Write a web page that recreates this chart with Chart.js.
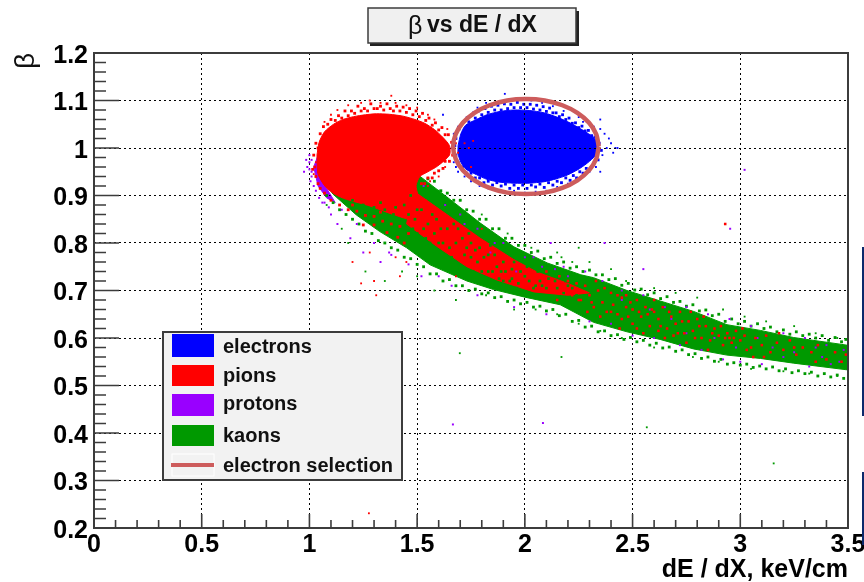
<!DOCTYPE html>
<html>
<head>
<meta charset="utf-8">
<title>beta vs dE/dX</title>
<script src="https://cdn.jsdelivr.net/npm/chart.js@4/dist/chart.umd.js"></script>
<style>
  html, body { margin: 0; padding: 0; background: #fff; overflow: hidden; }
  #wrap { position: relative; width: 864px; height: 582px; }
  #plot { display: block; filter: blur(0.55px); }
  .edge { position: absolute; left: 862px; width: 2px; background: #0c2a6c; }
</style>
</head>
<body>
<div id="wrap">
  <canvas id="plot" width="864" height="582"></canvas>
  <div class="edge" style="top:247px;height:169px"></div>
  <div class="edge" style="top:472px;height:73px"></div>
</div>
<script>
const xTicks = [0, 0.5, 1, 1.5, 2, 2.5, 3, 3.5];
const yTicks = [0.2, 0.3, 0.4, 0.5, 0.6, 0.7, 0.8, 0.9, 1, 1.1, 1.2];
const legendNames = ['electrons', 'pions', 'protons', 'kaons', 'electron selection'];
const xTitle = 'dE / dX, keV/cm';

// outlines of the dense clouds
const electronCloud = [[1.69,1.005],[1.703,1.03],[1.725,1.048],[1.775,1.06],[1.824,1.07],[1.885,1.077],[1.949,1.08],[2.02,1.079],[2.089,1.074],[2.155,1.064],[2.213,1.052],[2.26,1.04],[2.305,1.027],[2.337,1.012],[2.337,.99],[2.3,.972],[2.255,.957],[2.197,.943],[2.145,.935],[2.089,.929],[2.02,.926],[1.949,.926],[1.885,.928],[1.824,.934],[1.775,.944],[1.725,.956],[1.703,.97],[1.69,.988],[1.69,1.005]];
const pionCloud = [[1.035,.985],[1.045,1.012],[1.07,1.034],[1.112,1.05],[1.155,1.06],[1.205,1.066],[1.26,1.07],[1.311,1.072],[1.37,1.071],[1.435,1.067],[1.49,1.06],[1.535,1.052],[1.58,1.039],[1.618,1.023],[1.65,1.005],[1.65,.985],[1.595,.962],[1.55,.95],[1.513,.94],[1.495,.921],[1.505,.9],[1.52,.88],[1.482,.85],[1.389,.86],[1.28,.878],[1.171,.892],[1.12,.902],[1.075,.918],[1.04,.945],[1.035,.985]];
const pionBand = [[1.482,.91],[1.638,.86],[1.793,.81],[1.949,.765],[2.06,.738],[2.2,.715],[2.3,.695],[2.2,.69],[2.042,.697],[1.871,.722],[1.731,.75],[1.591,.793],[1.451,.84],[1.482,.91]];
const protonEdge = [[1.02,.96],[1.04,.985],[1.05,.96],[1.08,.915],[1.12,.885],[1.08,.895],[1.04,.92],[1.02,.96]];
const kaonBand = [[1.5,.945],[1.638,.897],[1.793,.842],[1.949,.792],[2.104,.758],[2.26,.733],[2.319,.727],[2.474,.7],[2.628,.678],[2.783,.656],[2.938,.628],[3.093,.616],[3.248,.601],[3.495,.585],[3.495,.533],[3.248,.547],[3.093,.557],[2.938,.564],[2.783,.577],[2.628,.597],[2.474,.613],[2.319,.633],[2.164,.67],[2.0,.686],[1.855,.702],[1.731,.72],[1.56,.754],[1.451,.79],[1.327,.824],[1.218,.859],[1.109,.903],[1.07,.93],[1.5,.945]];

// points along the rough edges of the clouds
const electronEdge = [[1.68,1.02],[1.695,1.04],[1.715,1.055],[1.74,1.055],[1.755,1.07],[1.77,1.063],[1.785,1.078],[1.8,1.07],[1.815,1.083],[1.83,1.075],[1.845,1.088],[1.86,1.08],[1.875,1.09],[1.89,1.08],[1.905,1.093],[1.92,1.083],[1.935,1.092],[1.95,1.085],[1.965,1.096],[1.98,1.085],[1.995,1.092],[2.01,1.085],[2.025,1.092],[2.04,1.082],[2.055,1.09],[2.07,1.08],[2.085,1.087],[2.1,1.077],[2.115,1.084],[2.13,1.074],[2.145,1.074],[2.16,1.066],[2.175,1.07],[2.19,1.06],[2.205,1.063],[2.22,1.052],[2.235,1.053],[2.25,1.043],[2.265,1.046],[2.28,1.036],[2.295,1.037],[2.31,1.026],[2.325,1.023],[2.345,1.01],[2.355,.995],[2.34,.975],[2.32,.968],[2.305,.957],[2.285,.957],[2.27,.947],[2.255,.95],[2.24,.937],[2.225,.942],[2.21,.932],[2.19,.937],[2.17,.927],[2.15,.93],[2.13,.922],[2.11,.927],[2.09,.917],[2.07,.924],[2.05,.918],[2.03,.922],[2.01,.915],[1.99,.922],[1.97,.915],[1.95,.922],[1.93,.915],[1.91,.924],[1.89,.92],[1.87,.927],[1.85,.922],[1.83,.93],[1.81,.927],[1.79,.937],[1.77,.937],[1.75,.947],[1.73,.947],[1.71,.96],[1.69,.97],[1.68,.985],[1.675,1.005]];
const pionEdge = [[1.05,1.03],[1.065,1.045],[1.085,1.05],[1.1,1.06],[1.12,1.058],[1.135,1.068],[1.15,1.063],[1.165,1.078],[1.18,1.068],[1.195,1.078],[1.21,1.073],[1.225,1.088],[1.24,1.078],[1.255,1.083],[1.27,1.078],[1.285,1.093],[1.3,1.083],[1.315,1.083],[1.33,1.088],[1.345,1.08],[1.36,1.093],[1.375,1.083],[1.39,1.078],[1.405,1.088],[1.42,1.078],[1.435,1.086],[1.45,1.075],[1.465,1.083],[1.48,1.07],[1.495,1.078],[1.51,1.066],[1.525,1.073],[1.54,1.058],[1.555,1.063],[1.57,1.048],[1.585,1.053],[1.6,1.038],[1.615,1.043],[1.63,1.028],[1.645,1.028],[1.66,1.012],[1.67,1.0],[1.665,.985],[1.65,.972],[1.63,.972],[1.62,.957],[1.6,.952],[1.58,.947],[1.57,.937],[1.55,.937],[1.535,.925],[1.52,.925],[1.03,1.01],[1.02,.985],[1.025,.96],[1.015,.955],[1.03,.94],[1.04,.925],[1.05,.915],[1.07,.905],[1.04,1.0],[1.1,.89],[1.14,.88],[1.18,.87],[1.22,.867],[1.26,.858],[1.3,.856],[1.34,.846],[1.38,.84],[1.42,.835],[1.3,.838],[1.36,.822],[1.41,.812],[1.25,.838],[1.46,.82],[1.44,.8],[1.33,.865],[1.2,.88]];
const kaonEdge = [[1.55,.935],[1.58,.93],[1.61,.91],[1.64,.905],[1.67,.89],[1.7,.89],[1.73,.87],[1.76,.867],[1.79,.85],[1.82,.85],[1.85,.83],[1.88,.83],[1.91,.81],[1.94,.81],[1.97,.795],[2.0,.795],[2.03,.78],[2.06,.783],[2.09,.767],[2.12,.77],[2.15,.757],[2.18,.76],[2.21,.747],[2.24,.75],[2.27,.74],[2.3,.743],[2.33,.733],[2.36,.733],[2.39,.723],[2.42,.725],[2.45,.711],[2.48,.715],[2.51,.701],[2.54,.703],[2.57,.691],[2.6,.695],[2.63,.683],[2.66,.687],[2.69,.675],[2.72,.677],[2.75,.667],[2.78,.67],[2.81,.657],[2.84,.659],[2.87,.647],[2.9,.65],[2.93,.635],[2.96,.64],[2.99,.63],[3.02,.635],[3.05,.625],[3.08,.63],[3.11,.62],[3.14,.623],[3.17,.613],[3.2,.617],[3.23,.608],[3.26,.613],[3.29,.605],[3.32,.608],[3.35,.6],[3.38,.605],[3.41,.595],[3.44,.601],[3.47,.592],[3.49,.597],[1.08,.9],[1.11,.885],[1.14,.87],[1.17,.86],[1.2,.85],[1.23,.84],[1.26,.825],[1.29,.82],[1.32,.805],[1.35,.8],[1.38,.79],[1.41,.785],[1.44,.77],[1.47,.767],[1.5,.755],[1.53,.75],[1.56,.735],[1.59,.735],[1.62,.72],[1.65,.723],[1.68,.71],[1.71,.71],[1.74,.7],[1.77,.703],[1.8,.693],[1.83,.695],[1.86,.685],[1.89,.687],[1.92,.677],[1.95,.68],[1.98,.672],[2.01,.675],[2.04,.665],[2.07,.667],[2.1,.657],[2.13,.66],[2.16,.647],[2.19,.65],[2.22,.635],[2.25,.637],[2.28,.623],[2.31,.625],[2.34,.613],[2.37,.615],[2.4,.605],[2.43,.607],[2.46,.597],[2.49,.601],[2.52,.592],[2.55,.595],[2.58,.585],[2.61,.589],[2.64,.579],[2.67,.581],[2.7,.572],[2.73,.575],[2.76,.565],[2.79,.567],[2.82,.557],[2.85,.56],[2.88,.551],[2.91,.555],[2.94,.545],[2.97,.548],[3.0,.543],[3.03,.545],[3.06,.538],[3.09,.541],[3.12,.535],[3.15,.539],[3.18,.531],[3.21,.535],[3.24,.527],[3.27,.531],[3.3,.525],[3.33,.528],[3.36,.52],[3.39,.525],[3.42,.518],[3.45,.522],[3.48,.515]];

// single points that stand out of the clouds, and the speckle inside the bands
const electronDots = [[1.907,1.114],[1.82,1.095],[1.78,1.085],[1.86,1.095],[1.93,1.101],[1.98,1.104],[2.03,1.1],[2.08,1.095],[2.13,1.088],[2.18,1.078],[2.25,1.065],[1.76,1.075],[1.73,1.065],[1.69,1.045],[1.67,1.03],[1.66,1],[1.67,.97],[1.69,.95],[1.72,.94],[1.75,.93],[1.79,.92],[1.83,.915],[1.87,.912],[1.9,.908],[1.95,.91],[2,.906],[2.05,.908],[2.1,.91],[2.15,.918],[2.2,.925],[2.25,.935],[2.3,.95],[2.33,.96],[2.35,.95],[2.37,1.03],[2.38,1],[2.4,1.01],[2.42,1],[2.43,1],[2.41,.99],[2.39,1.02],[2.36,.985],[2.35,1.04],[2.35,1.06],[2.32,1.045],[2.27,1.055],[1.62,1.07],[1.68,.96]];
const pionDots = [[1.38,1.11],[1.28,1.1],[1.13,1.08],[1.18,1.09],[1.24,1.095],[1.33,1.095],[1.4,1.095],[1.45,1.09],[1.5,1.085],[1.55,1.07],[1.58,1.06],[1.64,1.04],[1.68,1.01],[1.69,.99],[1.63,.96],[1.6,.94],[1.56,.93],[1.1,1.07],[1.07,1.055],[1.74,1.0],[1.76,1.015],[1.72,1.01],[1.75,.96],[1.55,.92],[1.54,.89],[1.56,.86],[1.3,.72],[1.2,.76],[1.28,.78],[1.42,.73],[1.31,.69],[1.24,.715],[1.4,.77],[1.45,.76],[1.68,.73],[1.8,.83],[1.179,.558],[1.295,.494],[1.429,.351],[1.276,.231],[1.03,.97],[1.04,.95],[1.02,.945],[1.05,.94]];
const pionSpeckle = [[2.1,.74],[2.13,.715],[2.16,.73],[2.18,.7],[2.2,.72],[2.22,.69],[2.24,.715],[2.26,.68],[2.28,.71],[2.3,.69],[2.32,.665],[2.34,.7],[2.36,.675],[2.38,.655],[2.4,.695],[2.41,.67],[2.43,.65],[2.45,.64],[2.45,.685],[2.47,.665],[2.5,.66],[2.5,.63],[2.52,.68],[2.54,.645],[2.56,.665],[2.58,.625],[2.6,.655],[2.62,.64],[2.64,.665],[2.66,.62],[2.68,.645],[2.7,.63],[2.72,.655],[2.74,.61],[2.76,.635],[2.78,.615],[2.8,.64],[2.82,.6],[2.84,.625],[2.86,.595],[2.88,.62],[2.9,.605],[2.92,.585],[2.94,.61],[2.96,.59],[2.98,.615],[3,.595],[3.02,.605],[3.05,.58],[3.07,.6],[3.1,.585],[3.12,.605],[3.14,.57],[3.17,.59],[3.2,.575],[3.23,.595],[3.26,.565],[3.29,.58],[3.33,.57],[3.36,.585],[3.4,.555],[3.44,.57],[3.47,.55],[3.49,.565],[2.15,.68],[2.25,.68],[2.29,.655],[2.35,.645],[2.44,.62],[2.48,.645],[2.55,.61],[2.57,.65],[2.65,.6],[2.69,.605],[2.75,.59],[2.95,.6],[3.06,.56],[3.25,.58],[3.35,.55],[3.11,.56],[2.85,.575],[3.18,.61],[2.6,.68],[2.4,.655],[2.33,.72],[2.52,.62],[2.62,.615],[2.47,.69],[2.77,.655],[2.83,.645],[2.91,.625],[3.03,.575],[2.93,.84],[2.37,.705],[2.31,.675],[2.43,.69],[2.49,.675],[2.53,.655],[2.59,.66],[2.63,.625],[2.67,.655],[2.71,.61],[2.73,.635],[2.79,.6],[2.81,.625],[2.87,.61],[2.93,.6],[2.97,.6],[3.01,.62]];
const protonDots = [[.975,.95],[.985,.975],[.99,.96],[1.0,.985],[1.01,.975],[1.01,.94],[1.03,.91],[1.06,.885],[1.1,.86],[1.13,.84],[1.19,.81],[1.25,.78],[1.33,.76],[1.37,.78],[1.53,.92],[1.63,.88],[1.72,.84],[1.84,.78],[1.9,.8],[1.96,.74],[2.0,.77],[2.08,.75],[2.14,.745],[2.2,.73],[2.28,.74],[2.36,.72],[2.45,.7],[2.55,.69],[2.65,.665],[2.75,.665],[2.85,.65],[2.95,.64],[3.05,.625],[3.2,.61],[3.3,.6],[3.4,.585],[3.48,.575],[2.3,.635],[2.4,.63],[2.5,.605],[2.6,.6],[2.72,.585],[2.82,.575],[2.92,.555],[3.0,.55],[3.1,.545],[3.2,.56],[3.32,.54],[3.42,.545],[1.6,.73],[1.78,.69],[1.95,.665],[2.1,.65],[2.45,.68],[2.75,.61],[3.15,.58],[3.35,.58],[2.953,.83],[3.02,.954],[1.666,.418],[2.084,.421],[2.12,.8],[2.37,.8],[2.55,.745],[1.15,.87],[1.22,.84],[1.3,.8],[1.38,.775],[1.46,.755],[1.52,.73],[1.66,.71],[1.7,.86],[1.78,.83],[1.86,.8],[2.04,.77],[2.18,.75],[2.58,.66],[2.68,.64],[2.88,.6],[2.98,.58],[3.08,.6],[3.25,.57],[3.38,.56],[3.46,.55],[1.0,.955],[1.005,.93],[1.02,.92],[1.045,.895],[1.07,.885],[1.09,.875],[1.01,.95],[1.0,.97]];
const kaonDots = [[1.08,.88],[1.15,.83],[1.18,.8],[1.26,.74],[1.35,.72],[1.43,.74],[1.5,.73],[1.58,.7],[1.68,.68],[1.82,.69],[1.95,.66],[2.05,.66],[2.15,.65],[2.25,.63],[2.35,.615],[2.45,.6],[2.6,.58],[2.78,.56],[2.9,.55],[3.05,.535],[3.2,.53],[3.32,.525],[3.45,.52],[1.6,.91],[1.7,.89],[1.8,.86],[1.92,.82],[2.03,.79],[2.15,.78],[2.22,.76],[2.3,.76],[2.4,.745],[2.47,.72],[2.6,.705],[2.7,.695],[2.8,.685],[2.92,.66],[3.02,.645],[3.12,.635],[3.25,.625],[3.35,.61],[3.45,.6],[2.17,.77],[2.25,.79],[2.566,.412],[1.698,.568],[3.155,.336],[2.17,.56]];
const kaonSpeckle = [[1.47,.9],[1.52,.87],[1.55,.84],[1.5,.82],[1.58,.82],[1.62,.8],[1.68,.8],[1.66,.77],[1.72,.775],[1.75,.8],[1.78,.76],[1.83,.775],[1.85,.74],[1.9,.76],[1.93,.72],[1.98,.74],[2.02,.72],[2.06,.74],[2.1,.705],[2.14,.72],[2.18,.695],[1.56,.8],[1.64,.83],[1.7,.745],[1.8,.74],[1.88,.725],[1.96,.705],[2.08,.71],[2.2,.71],[1.49,.85],[1.6,.775],[1.74,.82],[1.46,.86],[1.53,.83],[1.57,.86],[1.61,.83],[1.65,.79],[1.69,.83],[1.73,.79],[1.77,.785],[1.81,.77],[1.84,.795],[1.87,.75],[1.91,.74],[1.94,.745],[1.97,.715],[2.0,.73],[2.04,.705],[2.11,.725],[1.75,.77],[1.63,.77],[1.54,.81],[1.59,.85],[1.68,.76],[1.82,.72],[1.9,.72],[2.05,.71],[1.44,.84],[1.48,.83],[1.52,.8],[1.42,.85],[1.39,.86],[1.35,.87],[1.3,.875],[1.25,.88],[1.2,.89],[1.33,.885],[1.4,.875],[1.44,.88],[1.92,.78],[1.95,.76],[1.99,.765],[2.03,.75],[2.07,.72],[2.12,.74],[2.15,.705],[2.17,.73],[2.22,.705],[2.24,.69],[2.26,.72],[2.19,.72],[1.86,.775],[1.89,.74],[1.79,.79],[1.71,.81],[1.67,.84],[1.58,.78],[1.55,.77],[1.47,.81],[1.5,.87],[1.6,.8],[1.76,.74],[1.83,.74],[2.01,.75],[1.94,.725]];

// electron selection ellipse, read around the red ring
const selection = [[2.343,1.003],[2.331,1.029],[2.298,1.053],[2.244,1.074],[2.174,1.09],[2.092,1.1],[2.005,1.103],[1.918,1.1],[1.836,1.09],[1.766,1.074],[1.712,1.053],[1.679,1.029],[1.667,1.003],[1.679,.977],[1.712,.953],[1.766,.932],[1.836,.916],[1.918,.906],[2.005,.903],[2.092,.906],[2.174,.916],[2.244,.932],[2.298,.953],[2.331,.977],[2.343,1.003]];

const BLUE = '#0000ff', RED = '#ff0000', PURPLE = '#9900ff', GREEN = '#009900', RING = '#cd5c5c';
const FRAME = '#3c3c3c';

const toXY = list => list.map(p => ({ x: p[0], y: p[1] }));

function cloud(label, data, color, order, tension) {
  return { label, data: toXY(data), showLine: true, fill: 'shape', backgroundColor: color,
    borderColor: color, borderWidth: 1, tension, pointRadius: 0, order };
}
function dots(label, data, color, order, size) {
  return { label, data: toXY(data), showLine: false, pointStyle: 'rect', pointRadius: size,
    pointBorderWidth: 0, pointBackgroundColor: color, order };
}

// extra drawing ROOT-style: frame, minor ticks, title box, legend box
const rootFrame = {
  id: 'rootFrame',
  beforeDatasetDraw(chart, args) {
    // the dotted grid shows over the electrons but stays under everything else
    if (chart.data.datasets[args.index].label === 'proton edge') {
      chart.scales.x.drawGrid(chart.chartArea);
      chart.scales.y.drawGrid(chart.chartArea);
    }
  },
  afterDraw(chart) {
    const ctx = chart.ctx, a = chart.chartArea, sx = chart.scales.x, sy = chart.scales.y;
    ctx.save();
    ctx.strokeStyle = FRAME;
    ctx.lineWidth = 2;
    ctx.strokeRect(a.left, a.top, a.right - a.left, a.bottom - a.top);

    ctx.lineWidth = 1.6;
    ctx.beginPath();
    for (let i = 0; i <= 35; i++) {
      const px = sx.getPixelForValue(i / 10);
      ctx.moveTo(px, a.bottom);
      ctx.lineTo(px, a.bottom - (i % 5 === 0 ? 14 : 8));
    }
    for (let i = 0; i <= 50; i++) {
      const py = sy.getPixelForValue(0.2 + i / 50);
      ctx.moveTo(a.left, py);
      ctx.lineTo(a.left + (i % 5 === 0 ? 25 : 12), py);
    }
    ctx.stroke();

    // y tick labels sit a little under their ticks in the original
    ctx.fillStyle = '#000';
    ctx.font = 'bold 25px "Liberation Sans"';
    ctx.textAlign = 'right';
    ctx.textBaseline = 'middle';
    yTicks.forEach(v => ctx.fillText(String(v), 88, sy.getPixelForValue(v) + 3));
    ctx.fillText(xTitle, 848, 570);

    // title box
    ctx.fillStyle = '#222';
    ctx.fillRect(370, 11, 209, 35);
    ctx.fillStyle = '#f0f0f0';
    ctx.fillRect(368, 8, 208, 35);
    ctx.lineWidth = 1.5;
    ctx.strokeStyle = FRAME;
    ctx.strokeRect(368, 8, 208, 35);
    ctx.fillStyle = '#111';
    ctx.textAlign = 'left';
    ctx.font = '25px "Liberation Sans"';
    ctx.fillText('β', 408, 27);
    ctx.font = 'bold 23px "Liberation Sans"';
    ctx.fillText('vs dE / dX', 427, 26);

    // legend box
    ctx.fillStyle = '#f2f2f2';
    ctx.fillRect(163, 332, 239, 148);
    ctx.lineWidth = 2;
    ctx.strokeRect(163, 332, 239, 148);
    const swatches = [BLUE, RED, PURPLE, GREEN];
    const tops = [334, 365, 394, 425];
    const heights = [23, 21, 22, 21];
    swatches.forEach((c, i) => {
      ctx.fillStyle = c;
      ctx.fillRect(172, tops[i], 42, heights[i]);
    });
    ctx.strokeStyle = '#fff';
    ctx.lineWidth = 1;
    ctx.strokeRect(172, 454, 42, 22);
    ctx.fillStyle = RING;
    ctx.fillRect(171, 463, 43, 4);
    ctx.fillStyle = '#111';
    ctx.font = 'bold 20px "Liberation Sans"';
    const rows = [347, 376, 404, 436, 466];
    legendNames.forEach((name, i) => ctx.fillText(name, 223, rows[i]));
    ctx.restore();
  }
};

new Chart(document.getElementById('plot'), {
  type: 'scatter',
  data: {
    datasets: [
      cloud('electron cloud', electronCloud, BLUE, 20, 0.25),
      dots('electron edge', electronEdge, BLUE, 19, 2),
      dots('electron dots', electronDots, BLUE, 19, 1.3),
      cloud('proton edge', protonEdge, PURPLE, 18, 0),
      dots('kaon edge', kaonEdge, GREEN, 17, 2),
      cloud('kaon band', kaonBand, GREEN, 17, 0),
      cloud('pion cloud', pionCloud, RED, 16, 0.25),
      cloud('pion band', pionBand, RED, 15, 0),
      dots('pion edge', pionEdge, RED, 15, 2),
      dots('proton dots', protonDots, PURPLE, 14, 1.4),
      dots('kaon speckle', kaonSpeckle, GREEN, 13, 1.9),
      dots('kaon dots', kaonDots, GREEN, 13, 1.3),
      dots('pion speckle', pionSpeckle, RED, 12, 1.8),
      dots('pion dots', pionDots, RED, 12, 1.3),
      { label: 'selection', data: toXY(selection), showLine: true, borderColor: RING, borderWidth: 4.5,
        tension: 0.3, pointRadius: 0, fill: false, order: 1 }
    ]
  },
  options: {
    responsive: false,
    animation: false,
    layout: { padding: { top: 53, right: 16, left: 0, bottom: 0 } },
    plugins: { legend: { display: false }, tooltip: { enabled: false } },
    scales: {
      x: {
        type: 'linear', min: 0, max: 3.5,
        afterFit(s) { s.height = 54; s.paddingRight = 0; s.paddingLeft = 0; },
        afterBuildTicks(s) { s.ticks = xTicks.map(v => ({ value: v })); },
        grid: { color: '#000', lineWidth: 1, drawTicks: false, tickLength: 0 },
        border: { display: false, dash: [2, 3] },
        ticks: { autoSkip: false, maxRotation: 0, padding: 2, color: '#000',
          font: { family: 'Liberation Sans', size: 25, weight: 'bold' },
          callback: v => String(v) }
      },
      y: {
        type: 'linear', min: 0.2, max: 1.2,
        afterFit(s) { s.width = 94; s.paddingTop = 0; s.paddingBottom = 0; },
        afterBuildTicks(s) { s.ticks = yTicks.map(v => ({ value: v })); },
        grid: { color: '#000', lineWidth: 1, drawTicks: false, tickLength: 0 },
        border: { display: false, dash: [2, 3] },
        ticks: { display: false },
        title: { display: true, text: 'β', align: 'end', color: '#111', padding: { top: 9, bottom: 0 },
          font: { family: 'Liberation Sans', size: 28 } }
      }
    }
  },
  plugins: [rootFrame]
});
</script>
</body>
</html>
